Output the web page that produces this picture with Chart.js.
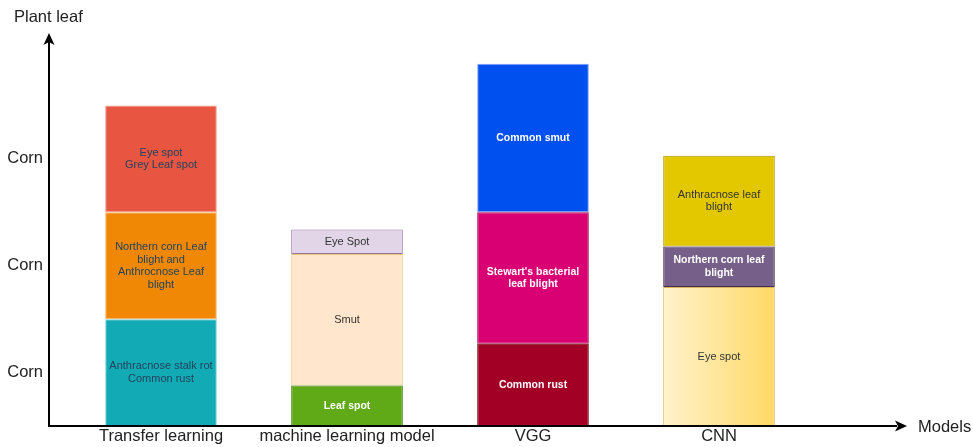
<!DOCTYPE html>
<html>
<head>
<meta charset="utf-8">
<script src="https://cdn.jsdelivr.net/npm/chart.js@4"></script>
<style>
  body { margin: 0; background: #fff; }
</style>
</head>
<body>
<canvas id="chart" width="973" height="447"></canvas>
<script>
// categories and tick labels
const models = ['Transfer learning', 'machine learning model', 'VGG', 'CNN'];
const yTickValues = [5, 15, 25];
const yTickLabel = 'Corn';

// stacked segment heights (bottom -> top)
const bottomValues = [10, 3.8, 7.7, 13.0];
const middleValues = [10, 12.3, 12.3, 3.8];
const topValues = [10, 2.3, 13.9, 8.5];

// segment names, one entry per bar
const bottomNames = [['Anthracnose stalk rot', 'Common rust'], ['Leaf spot'], ['Common rust'], ['Eye spot']];
const middleNames = [['Northern corn Leaf', 'blight and', 'Anthrocnose Leaf', 'blight'], ['Smut'], ["Stewart's bacterial", 'leaf blight'], ['Northern corn leaf', 'blight']];
const topNames = [['Eye spot', 'Grey Leaf spot'], ['Eye Spot'], ['Common smut'], ['Anthracnose leaf', 'blight']];

const bottomColors = ['#12AAB5', '#60A917', '#A20025', 'gradient'];
const middleColors = ['#F08705', '#FFE6CC', '#D80073', '#76608A'];
const topColors = ['#E85642', '#E1D5E7', '#0050EF', '#E3C800'];

const bottomBorders = ['#7fd0d6', '#2D7600', '#6F0000', '#D6B656'];
const middleBorders = ['#f5b56a', '#E8C97A', '#A50040', '#432D57'];
const topBorders = ['#f29a8d', '#9673A6', '#7f9cf5', '#B09500'];

const bottomText = ['#23445D', '#fff', '#fff', '#333'];
const middleText = ['#23445D', '#333', '#fff', '#fff'];
const topText = ['#23445D', '#333', '#fff', '#333'];
const bottomBold = [false, true, true, false];
const middleBold = [false, false, true, true];
const topBold = [false, false, true, false];

const FONT = '"Liberation Sans", Arial, sans-serif';

const bgColor = (colors) => (ctx) => {
    const c = colors[ctx.dataIndex];
    if (c !== 'gradient') return c;
    const chart = ctx.chart;
    if (!chart.chartArea) return '#ffe599';
    const xs = chart.scales.x;
    const cx = xs.getPixelForValue(ctx.dataIndex);
    const half = xs.width / models.length * 0.6 / 2;
    const g = chart.ctx.createLinearGradient(cx - half, 0, cx + half, 0);
    g.addColorStop(0, '#FFF2CC');
    g.addColorStop(1, '#FFD966');
    return g;
};

const makeSet = (values, names, colors, borders, text, bold) => ({
    data: values,
    names: names,
    textColors: text,
    bold: bold,
    backgroundColor: bgColor(colors),
    borderColor: borders,
    borderWidth: 1,
    borderSkipped: false
});

const diagram = {
    id: 'diagram',
    afterDatasetsDraw(chart) {
        const ctx = chart.ctx;
        ctx.save();
        ctx.textAlign = 'center';
        ctx.textBaseline = 'middle';
        chart.data.datasets.forEach((ds, di) => {
            chart.getDatasetMeta(di).data.forEach((bar, i) => {
                const lines = ds.names[i];
                ctx.fillStyle = ds.textColors[i];
                ctx.font = ds.bold[i] ? 'bold 10.5px ' + FONT : '11px ' + FONT;
                const mid = (bar.y + bar.base) / 2;
                const lh = 12.5;
                lines.forEach((t, k) => {
                    ctx.fillText(t, bar.x, mid + (k - (lines.length - 1) / 2) * lh);
                });
            });
        });

        // axes with arrow heads
        const x0 = 49, y0 = 426;
        ctx.strokeStyle = '#000';
        ctx.fillStyle = '#000';
        ctx.lineWidth = 2;
        ctx.beginPath();
        ctx.moveTo(x0, y0);
        ctx.lineTo(x0, 42);
        ctx.moveTo(x0 - 1, y0);
        ctx.lineTo(897, y0);
        ctx.stroke();
        ctx.beginPath();
        ctx.moveTo(x0, 33);
        ctx.lineTo(x0 + 5.5, 45);
        ctx.lineTo(x0, 42);
        ctx.lineTo(x0 - 5.5, 45);
        ctx.closePath();
        ctx.fill();
        ctx.beginPath();
        ctx.moveTo(907, y0);
        ctx.lineTo(895, y0 + 5.5);
        ctx.lineTo(898, y0);
        ctx.lineTo(895, y0 - 5.5);
        ctx.closePath();
        ctx.fill();

        ctx.font = '16.5px ' + FONT;
        ctx.fillStyle = '#222';
        ctx.textAlign = 'left';
        ctx.fillText('Plant leaf', 14, 17);
        ctx.fillText('Models', 918, 427);
        ctx.restore();
    }
};

new Chart(document.getElementById('chart'), {
    type: 'bar',
    data: {
        labels: models,
        datasets: [
            makeSet(bottomValues, bottomNames, bottomColors, bottomBorders, bottomText, bottomBold),
            makeSet(middleValues, middleNames, middleColors, middleBorders, middleText, middleBold),
            makeSet(topValues, topNames, topColors, topBorders, topText, topBold)
        ]
    },
    options: {
        responsive: false,
        devicePixelRatio: 1,
        animation: false,
        categoryPercentage: 1,
        barPercentage: 0.6,
        layout: {padding: {top: 35, right: 161, left: 0, bottom: 0}},
        plugins: {legend: {display: false}, tooltip: {enabled: false}},
        scales: {
            x: {
                stacked: true,
                grid: {display: false, drawTicks: false},
                border: {display: false},
                afterFit: (s) => { s.height = 21; },
                ticks: {padding: 1, color: '#222', font: {size: 16.5, family: FONT}, maxRotation: 0, autoSkip: false}
            },
            y: {
                stacked: true,
                min: 0,
                max: 36.6,
                grid: {display: false, drawTicks: false},
                border: {display: false},
                afterFit: (s) => { s.width = 68; s.paddingTop = 0; s.paddingBottom = 0; },
                afterBuildTicks: (s) => { s.ticks = yTickValues.map(v => ({value: v})); },
                ticks: {padding: 25, color: '#222', font: {size: 16.5, family: FONT}, callback: () => yTickLabel}
            }
        }
    },
    plugins: [diagram]
});
</script>
</body>
</html>
